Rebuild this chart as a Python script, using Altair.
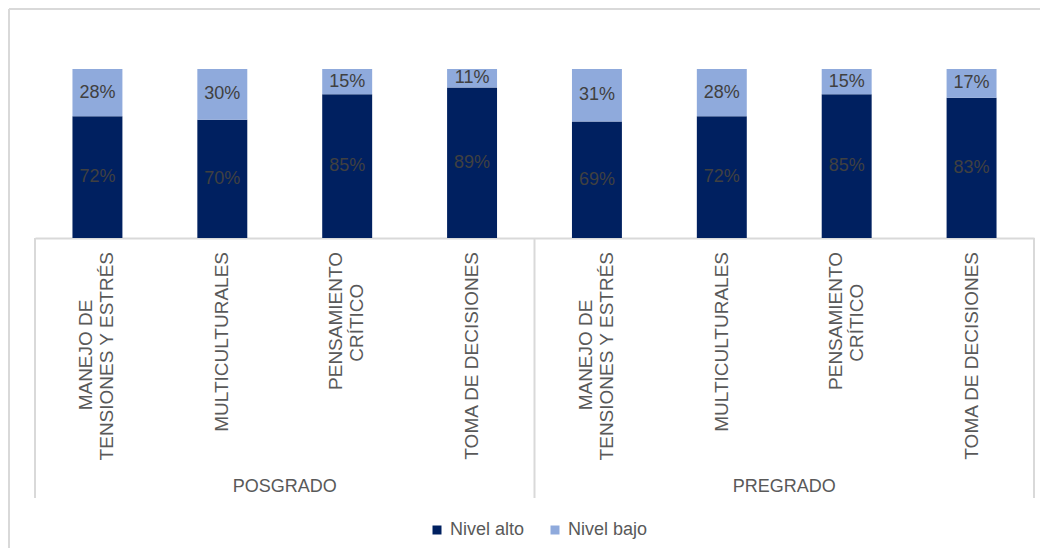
import altair as alt
import pandas as pd

# ---- data ----
groups = ["POSGRADO", "PREGRADO"]
categories = ["MANEJO DE TENSIONES Y ESTRÉS", "MULTICULTURALES",
              "PENSAMIENTO CRÍTICO", "TOMA DE DECISIONES"]
cat_lines = {
    "MANEJO DE TENSIONES Y ESTRÉS": ["MANEJO DE", "TENSIONES Y ESTRÉS"],
    "MULTICULTURALES": ["MULTICULTURALES"],
    "PENSAMIENTO CRÍTICO": ["PENSAMIENTO", "CRÍTICO"],
    "TOMA DE DECISIONES": ["TOMA DE DECISIONES"],
}
nivel_alto = [72, 70, 85, 89, 69, 72, 85, 83]
nivel_bajo = [28, 30, 15, 11, 31, 28, 15, 17]
levels = ["Nivel alto", "Nivel bajo"]
colors = ["#002060", "#8FAADC"]

FONT = "Liberation Sans"
NBSP = "\u00a0"
ZWSP = "\u200b"
# trailing non-breaking spaces make the shorter line sit centred on the longer one
short_pad = {"MANEJO DE": 9, "CRÍTICO": 6}

# ---- tables ----
rows, cat_rows = [], []
slot = 0
for g in groups:
    for c in categories:
        a = nivel_alto[slot]
        b = nivel_bajo[slot]
        rows.append(dict(slot=slot, nivel="Nivel alto", y0=0, y1=a, txt=f"{a}%"))
        rows.append(dict(slot=slot, nivel="Nivel bajo", y0=a, y1=a + b, txt=f"{b}%"))
        lines = []
        for ln in cat_lines[c]:
            n = short_pad.get(ln, 0)
            lines.append(ln + (NBSP * n + ZWSP if n else ""))
        cat_rows.append(dict(slot=slot, label="\n".join(lines), nlines=len(lines)))
        slot += 1
df = pd.DataFrame(rows)
df_cat = pd.DataFrame(cat_rows)
df_grp = pd.DataFrame(dict(gi=[0, 1], label=groups))
df_sep = pd.DataFrame(dict(b=[0, 1, 2]))
one = pd.DataFrame(dict(k=[0]))

xscale = alt.Scale(domain=[0, 8], nice=False, zero=False)
xaxis = alt.Axis(labels=False, ticks=False, grid=False, title=None,
                 domainColor="#D9D9D9", domainWidth=2)
yscale = alt.Scale(domain=[0, 100], nice=False)

bars = alt.Chart(df).transform_calculate(
    x0="datum.slot + 0.3", x1="datum.slot + 0.7"
).mark_rect().encode(
    x=alt.X("x0:Q", scale=xscale, axis=xaxis),
    x2="x1:Q",
    y=alt.Y("y0:Q", scale=yscale, axis=None),
    y2="y1:Q",
    color=alt.Color("nivel:N", scale=alt.Scale(domain=levels, range=colors),
                    legend=alt.Legend(title=None, orient="none", legendX=393, legendY=452,
                                      direction="horizontal", symbolType="square",
                                      symbolSize=81, symbolStrokeWidth=0,
                                      labelFontSize=18, labelColor="#595959",
                                      labelFont=FONT, columnPadding=21, labelOffset=4,
                                      padding=0)),
)

values = alt.Chart(df).transform_calculate(
    xc="datum.slot + 0.5", yc="(datum.y0 + datum.y1) / 2"
).mark_text(font=FONT, fontSize=18, color="#404040", baseline="middle").encode(
    x=alt.X("xc:Q", scale=xscale, axis=xaxis),
    y=alt.Y("yc:Q", scale=yscale, axis=None),
    text="txt:N",
)


def cat_layer(nl, dy):
    return alt.Chart(df_cat).transform_filter(
        f"datum.nlines == {nl}"
    ).transform_calculate(
        xc="datum.slot + 0.5"
    ).mark_text(font=FONT, fontSize=19, color="#595959", angle=270, align="right",
                baseline="middle", lineBreak="\n", lineHeight=21, dy=dy).encode(
        x=alt.X("xc:Q", scale=xscale, axis=xaxis),
        y=alt.value(183),
        text="label:N",
    )


cat_one = cat_layer(1, 0)
cat_two = cat_layer(2, -11)

grp_text = alt.Chart(df_grp).transform_calculate(
    xc="datum.gi * 4 + 2"
).mark_text(font=FONT, fontSize=18, color="#595959", baseline="middle").encode(
    x=alt.X("xc:Q", scale=xscale, axis=xaxis),
    y=alt.value(418),
    text="label:N",
)

seps = alt.Chart(df_sep).transform_calculate(
    bx="datum.b * 4"
).mark_rule(color="#D9D9D9", strokeWidth=2).encode(
    x=alt.X("bx:Q", scale=xscale, axis=xaxis),
    y=alt.value(169),
    y2=alt.value(429),
)

border_top = alt.Chart(one).mark_rule(color="#D9D9D9", strokeWidth=2).encode(
    x=alt.value(-26), x2=alt.value(1010), y=alt.value(-60))
border_left = alt.Chart(one).mark_rule(color="#D9D9D9", strokeWidth=2).encode(
    x=alt.value(-26), y=alt.value(-60), y2=alt.value(480))

chart = alt.layer(border_top, border_left, seps, bars, values, cat_one, cat_two,
                  grp_text).properties(
    width=999, height=169,
    autosize=alt.AutoSizeParams(type="none"),
    padding={"left": 27, "top": 61, "right": 6, "bottom": 310},
).configure_view(stroke=None)

chart.save("out.html", embed_options={"renderer": "svg", "actions": False})
